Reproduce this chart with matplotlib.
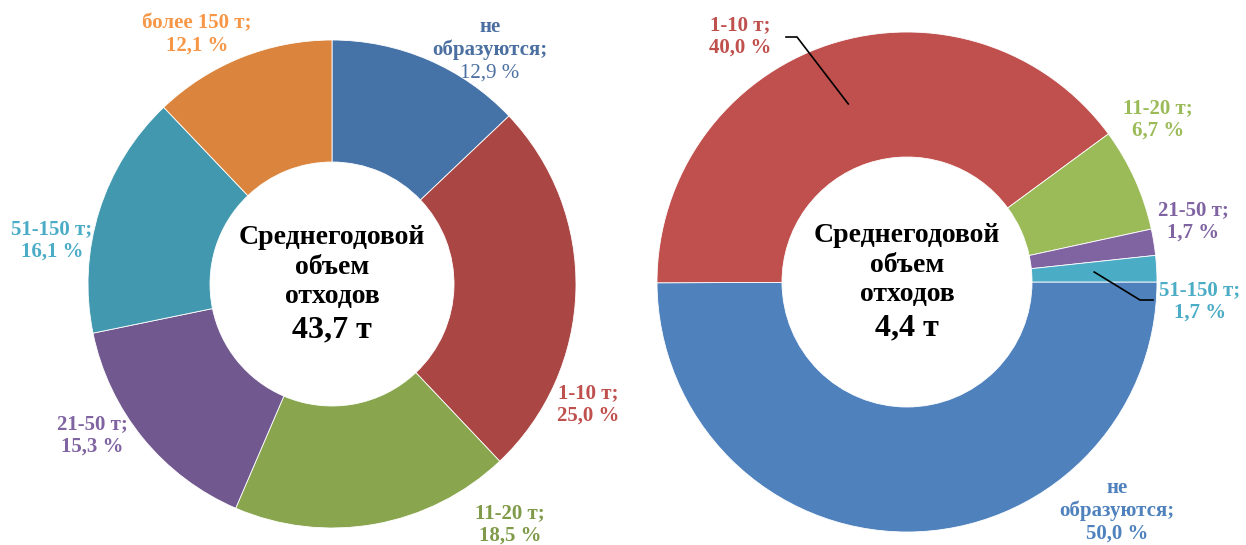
import numpy as np
import matplotlib.pyplot as plt

plt.rcParams['font.family'] = ['Liberation Serif', 'DejaVu Serif']

# left donut data
left_names = ["не\nобразуются;", "1-10 т;", "11-20 т;", "21-50 т;", "51-150 т;", "более 150 т;"]
left_values = [12.9, 25.0, 18.5, 15.3, 16.1, 12.1]
left_total = "43,7 т"

# right donut data
right_names = ["не\nобразуются;", "1-10 т;", "11-20 т;", "21-50 т;", "51-150 т;"]
right_values = [50.0, 40.0, 6.7, 1.7, 1.7]
right_total = "4,4 т"

left_colors = ["#4572A7", "#AA4643", "#89A54E", "#71588F", "#4198AF", "#DB843D"]
left_text_colors = ["#4A6FA0", "#C0504D", "#7F9A48", "#8064A2", "#4BACC6", "#F79646"]
right_colors = ["#4F81BD", "#C0504D", "#9BBB59", "#8064A2", "#4BACC6"]

W, H = 1246, 545
fig = plt.figure(figsize=(W / 100, H / 100), dpi=100)
ax = fig.add_axes([0, 0, 1, 1])
ax.set_xlim(0, W)
ax.set_ylim(0, H)
ax.set_aspect('equal')
ax.axis('off')


def fmt(v):
    return f"{v:.1f}".replace(".", ",") + " %"


def draw_label(x, y, name, pct, color, pct_bold=True, fs=15, step=23):
    lines = name.split("\n") + [pct]
    for i, line in enumerate(lines):
        bold = pct_bold or i < len(lines) - 1
        ax.text(x, H - (y + i * step), line, color=color, fontsize=fs,
                fontweight='bold' if bold else 'normal', ha='center', va='center',
                zorder=0.5)


def draw_center(cx, cy, total):
    for i, line in enumerate(["Среднегодовой", "объем", "отходов"]):
        ax.text(cx, H - (cy - 47 + i * 30), line, fontsize=20, fontweight='bold',
                ha='center', va='center')
    ax.text(cx, H - (cy + 46), total, fontsize=23, fontweight='bold',
            ha='center', va='center')


# left donut
lc, lr = (332, 284), 244
wl, _ = ax.pie(left_values, colors=left_colors, startangle=90, counterclock=False,
               radius=lr, center=(lc[0], H - lc[1]),
               wedgeprops=dict(width=lr * 0.5, edgecolor='white', linewidth=0.6),
               frame=True)
left_label_xy = [(490, 27), (588, 393), (510, 513), (92, 424), (52, 229), (197, 23)]
for i, (n, v) in enumerate(zip(left_names, left_values)):
    draw_label(*left_label_xy[i], n, fmt(v), left_text_colors[i], pct_bold=(i != 0))
draw_center(lc[0], lc[1], left_total)

# right donut
rc, rr = (907, 282), 250
wr, _ = ax.pie(right_values, colors=right_colors, startangle=0, counterclock=False,
               radius=rr, center=(rc[0], H - rc[1]),
               wedgeprops=dict(width=rr * 0.5, edgecolor='white', linewidth=0.6),
               frame=True)
right_label_xy = [(1117, 488), (740, 25), (1158, 108), (1193, 210), (1200, 290)]
for i, (n, v) in enumerate(zip(right_names, right_values)):
    draw_label(*right_label_xy[i], n, fmt(v), right_colors[i])
draw_center(rc[0], rc[1], right_total)

# leader lines from the middle of the ring
for idx, end, knee in [(1, (786, 37), (797, 37)), (4, (1153, 300), (1140, 300))]:
    w = wr[idx]
    mid = np.deg2rad((w.theta1 + w.theta2) / 2)
    px = rc[0] + 0.75 * rr * np.cos(mid)
    py = H - rc[1] + 0.75 * rr * np.sin(mid)
    ax.plot([px, knee[0], end[0]], [py, H - knee[1], H - end[1]], color='black', lw=1.2)

ax.set_xlim(0, W)
ax.set_ylim(0, H)
ax.axis('off')
fig.savefig("out.png", dpi=100)
